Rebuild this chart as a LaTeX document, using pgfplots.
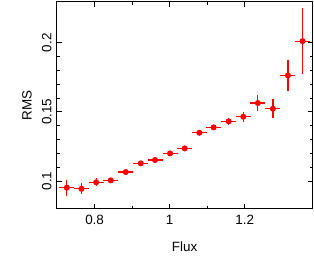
\documentclass[border=0pt]{standalone}
\usepackage{pgfplots}
\pgfplotsset{compat=1.18}
\usepackage{fontspec}
\setmainfont{Liberation Sans}
\begin{document}
\begin{tikzpicture}
\begin{axis}[
  scale only axis,
  width=256bp, height=207bp,
  xmin=0.699, xmax=1.381,
  ymin=0.08, ymax=0.2297,
  xtick={0.8,1,1.2}, minor x tick num=1,
  ytick={0.1,0.15,0.2}, minor y tick num=4,
  axis line style={line width=1.2pt},
  major tick length=5bp, minor tick length=3.2bp,
  every tick/.style={black, line width=0.9pt},
  tick align=inside,
  font=\fontsize{13.5}{16}\selectfont,
  /pgf/number format/assume math mode=true,
  yticklabel style={rotate=90, anchor=south, inner sep=0pt, yshift=5bp},
  xticklabel style={inner sep=0pt, yshift=-6bp, anchor=north},
  xlabel={Flux}, ylabel={RMS},
  xlabel style={at={(axis description cs:0.5,0)}, anchor=center, yshift=-38bp},
  ylabel style={at={(axis description cs:0,0.5)}, anchor=center, yshift=29.7bp},
]
\addplot[red, line width=1.2pt, mark=*, mark size=2.4bp, only marks,
  mark options={fill=red, draw=red},
  error bars/.cd, x dir=both, x explicit, y dir=both, y explicit,
  error mark=none, error bar style={red, line width=1.2pt}]
  table[x=x, y=y, x error=ex, y error=ey] {
x      y       ex    ey
0.726  0.0952  0.020 0.0057
0.765  0.0944  0.020 0.0040
0.804  0.0991  0.020 0.0030
0.843  0.1005  0.020 0.0015
0.883  0.1065  0.020 0.0010
0.923  0.1128  0.020 0.0010
0.961  0.1152  0.020 0.0010
1.001  0.1200  0.020 0.0010
1.040  0.1236  0.020 0.0010
1.079  0.1349  0.020 0.0015
1.117  0.1388  0.020 0.0020
1.157  0.1432  0.020 0.0025
1.196  0.1465  0.020 0.0036
1.235  0.1564  0.020 0.0060
1.275  0.1523  0.020 0.0070
1.315  0.1764  0.020 0.0114
1.354  0.2012  0.020 0.0237
};
\end{axis}
\pgfresetboundingbox
\path (current axis.south west) ++(-56.7bp,-66.3bp) rectangle ++(314bp,275bp);
\end{tikzpicture}
\end{document}
